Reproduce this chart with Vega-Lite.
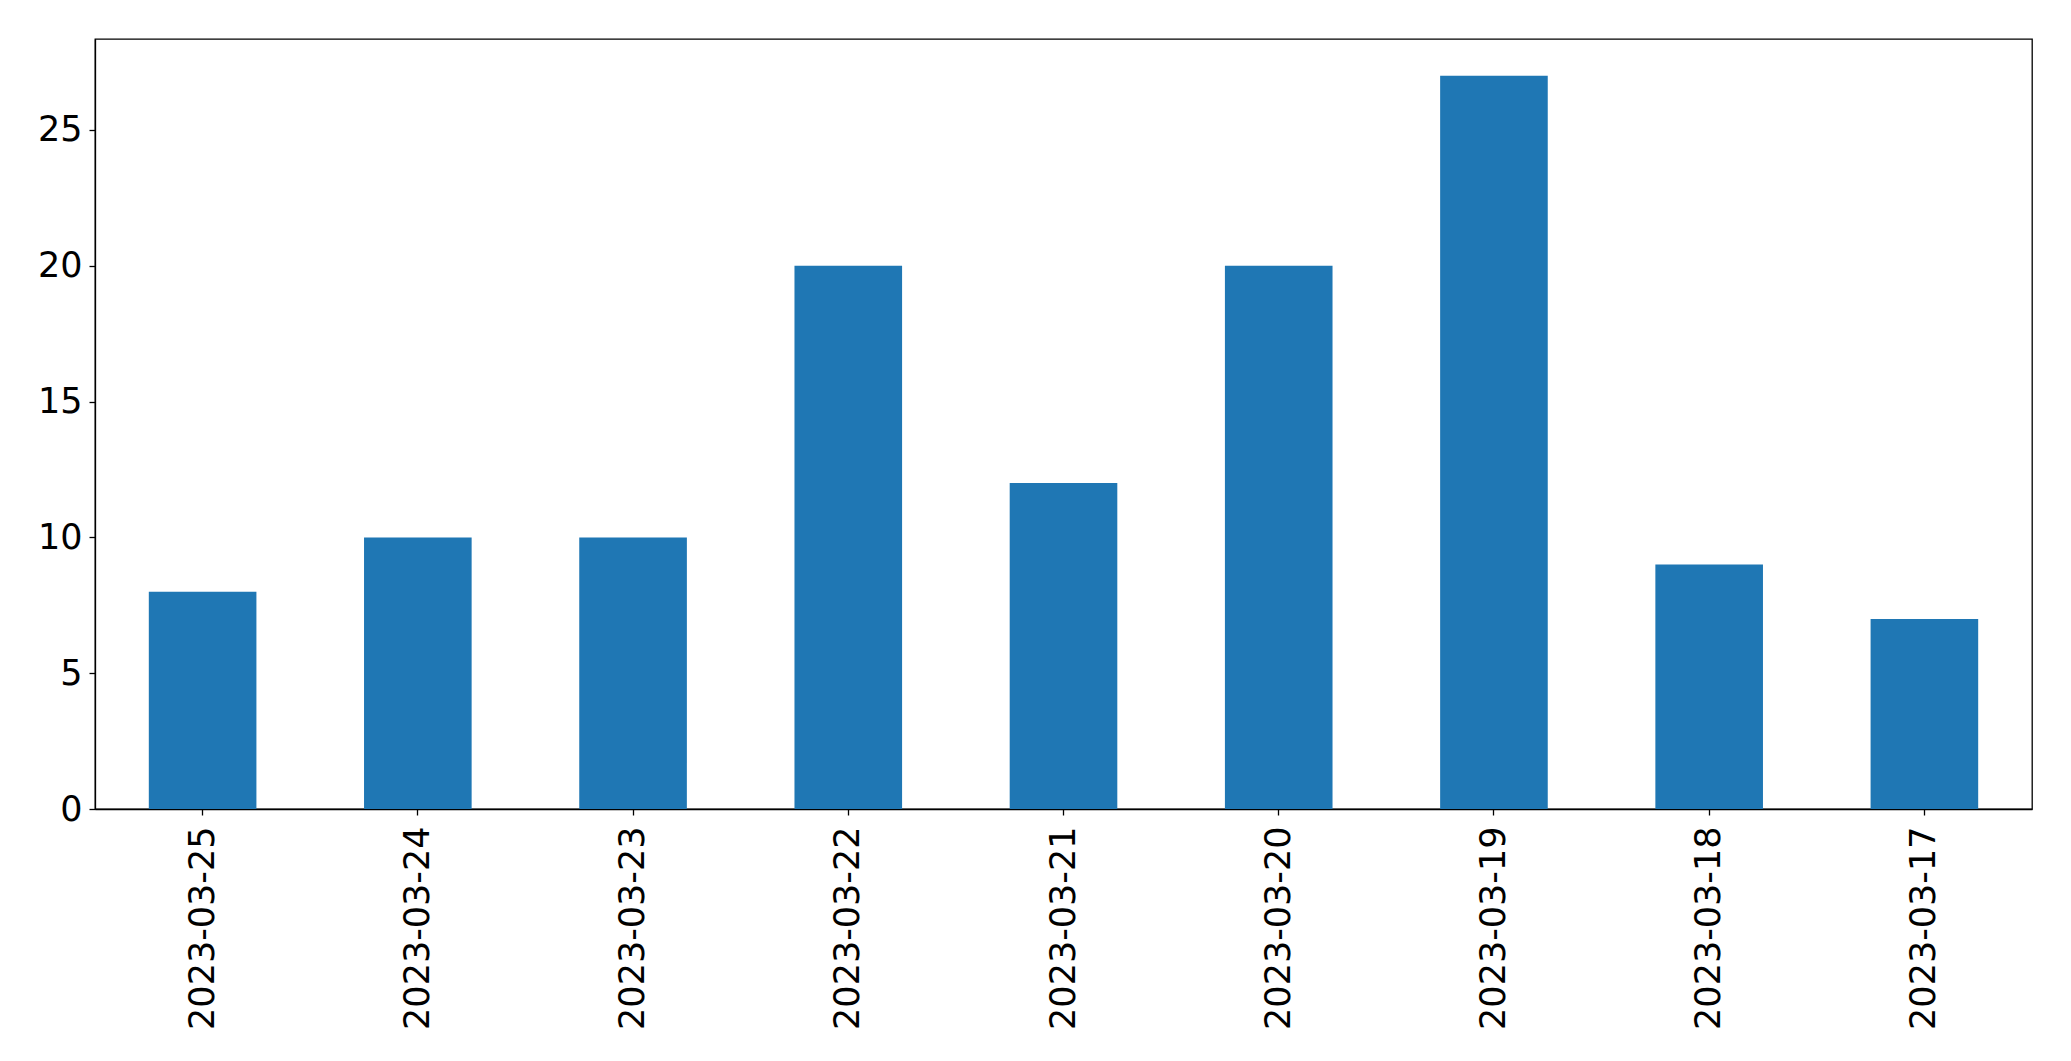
{
  "$schema": "https://vega.github.io/schema/vega-lite/v6.json",
  "width": 1937,
  "height": 770,
  "autosize": "none",
  "padding": {"left": 95, "top": 39, "right": 39, "bottom": 252},
  "background": "white",
  "config": {
    "view": {"stroke": "black", "strokeWidth": 1.3},
    "font": "DejaVu Sans",
    "axis": {
      "labelFont": "DejaVu Sans",
      "labelFontSize": 35,
      "labelColor": "black",
      "labelLimit": 0,
      "tickColor": "black",
      "tickWidth": 1.3,
      "tickSize": 6,
      "domainColor": "black",
      "domainWidth": 1.3,
      "grid": false,
      "title": null
    }
  },
  "data": {
    "values": [
      {"date": "2023-03-25", "count": 8},
      {"date": "2023-03-24", "count": 10},
      {"date": "2023-03-23", "count": 10},
      {"date": "2023-03-22", "count": 20},
      {"date": "2023-03-21", "count": 12},
      {"date": "2023-03-20", "count": 20},
      {"date": "2023-03-19", "count": 27},
      {"date": "2023-03-18", "count": 9},
      {"date": "2023-03-17", "count": 7}
    ]
  },
  "mark": {"type": "bar", "color": "#1f77b4"},
  "encoding": {
    "x": {
      "field": "date",
      "type": "nominal",
      "sort": null,
      "scale": {"paddingInner": 0.5, "paddingOuter": 0.25},
      "axis": {"labelAngle": -90, "labelPadding": 11}
    },
    "y": {
      "field": "count",
      "type": "quantitative",
      "scale": {"domain": [0, 28.35], "nice": false},
      "axis": {"values": [0, 5, 10, 15, 20, 25], "labelPadding": 7}
    }
  }
}
